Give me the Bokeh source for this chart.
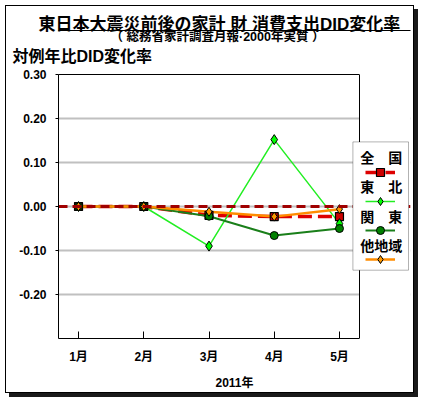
from bokeh.plotting import figure
from bokeh.models import (Range1d, FixedTicker, NumeralTickFormatter, Span, Title, Label,
                          Legend, LegendItem, LinearAxis, BoxAnnotation)
from bokeh.core.properties import value
from bokeh.embed import file_html
from bokeh.resources import INLINE

# ---- data ----
months = ["1月", "2月", "3月", "4月", "5月"]
month_pos = [1, 2, 3, 4, 5]
zenkoku = [0.0, 0.0, -0.020, -0.023, -0.023]
tohoku = [0.0, 0.0, -0.090, 0.152, -0.039]
kanto = [0.0, 0.0, -0.022, -0.066, -0.050]
others = [0.0, 0.0, -0.012, -0.023, -0.006]
series_names = ["全　国", "東　北", "関　東", "他地域"]
y_ticks = [-0.20, -0.10, 0.00, 0.10, 0.20, 0.30]
title_text = "東日本大震災前後の家計 財 消費支出DID変化率"
subtitle_text = "（ 総務省家計調査月報·2000年実質 ）"
ylabel_text = "対例年比DID変化率"
xlabel_text = "2011年"

JP = "Noto Sans CJK JP"
NUM = "'Liberation Sans', 'Noto Sans CJK JP'"

# plot-area geometry (page pixels) -> data ranges
PL, PR, PT, PB = 58.3, 359.3, 74.3, 338.3      # plot area box
FRAME_R = 410.3                                 # frame extends under the legend
X0, X1 = 0.693, 5.307                           # x at plot-area left / right
Y0, Y1 = -0.30, 0.30
FW = int(round(FRAME_R - PL))
FH = int(round(PB - PT))
XF = X0 + (FRAME_R - PL) / (PR - PL) * (X1 - X0)


def dx(px):
    return X0 + (px - PL) / (PR - PL) * (X1 - X0)


def dy(py):
    return Y1 - (py - PT) / (PB - PT) * (Y1 - Y0)


p = figure(frame_width=FW, frame_height=FH,
           min_border_left=52, min_border_top=68, min_border_right=3, min_border_bottom=54,
           x_range=Range1d(X0, XF), y_range=Range1d(Y0, Y1),
           output_backend="svg", toolbar_location=None,
           background_fill_color="white", border_fill_color="white")
p.styles = {"border": "1px solid #000", "box-shadow": "4px 4px 0 0 #1a1a1a",
            "margin-left": "5px", "margin-top": "5px"}

p.outline_line_color = None
p.xgrid.grid_line_color = None
p.ygrid.grid_line_color = "#c0c0c0"
p.ygrid.grid_line_width = 2

p.yaxis.ticker = FixedTicker(ticks=y_ticks)
p.yaxis.formatter = NumeralTickFormatter(format="0.00")
p.yaxis.major_tick_out = 3
p.yaxis.major_tick_in = 0
p.yaxis.minor_tick_line_color = None
p.yaxis.major_label_standoff = 9
p.yaxis.major_label_text_font = NUM
p.yaxis.major_label_text_font_size = "12px"
p.yaxis.major_label_text_font_style = "bold"
p.yaxis.major_label_text_color = "black"

p.xaxis.bounds = (X0, X1)
p.xaxis.ticker = FixedTicker(ticks=month_pos)
p.xaxis.major_label_overrides = {m: lab for m, lab in zip(month_pos, months)}
p.xaxis.major_tick_out = 0
p.xaxis.major_tick_in = 7
p.xaxis.minor_tick_line_color = None
p.xaxis.major_label_standoff = 11
p.xaxis.major_label_text_font = NUM
p.xaxis.major_label_text_font_size = "12px"
p.xaxis.major_label_text_font_style = "bold"
p.xaxis.major_label_text_color = "black"
p.xaxis.axis_label = xlabel_text
p.xaxis.axis_label_standoff = 9
p.xaxis.axis_label_text_font = NUM
p.xaxis.axis_label_text_font_size = "12px"
p.xaxis.axis_label_text_font_style = "bold"
p.xaxis.axis_label_text_color = "black"

# hide grid beyond the plot area, draw right border of plot area
p.add_layout(BoxAnnotation(left=X1, fill_color="white", fill_alpha=1, line_alpha=0,
                           level="underlay"))
p.add_layout(Span(location=X1, dimension="height", line_color="black", line_width=1,
                  level="underlay"))

zero = Span(location=0, dimension="width", line_color="#a00000", line_width=3,
            line_dash="9 5", level="glyph")
p.add_layout(zero)

r_z_l = p.line(month_pos, zenkoku, line_color="#dd0000", line_width=3.5, line_dash="14 6")
r_t_l = p.line(month_pos, tohoku, line_color="#22ee22", line_width=1.5)
r_k_l = p.line(month_pos, kanto, line_color="#1a7f1a", line_width=2)
r_o_l = p.line(month_pos, others, line_color="#ff8c00", line_width=2.5)
r_z_m = p.scatter(month_pos, zenkoku, marker="square", size=8, fill_color="#cc0000",
                  line_color="black", line_width=1.2)
r_t_m = p.scatter(month_pos, tohoku, marker="diamond", size=10, fill_color="#00ff00",
                  line_color="black", line_width=1)
r_k_m = p.scatter(month_pos, kanto, marker="circle", size=8, fill_color="#008000",
                  line_color="black", line_width=1)
r_o_m = p.scatter(month_pos, others, marker="diamond", size=9, fill_color="#ff9900",
                  line_color="black", line_width=1)

# legend box, samples and texts
p.add_layout(BoxAnnotation(left=dx(352.7), right=dx(408.3), top=dy(141.7), bottom=dy(270),
                           fill_color="white", fill_alpha=1, line_color="black",
                           line_width=1, level="annotation"))
legend = Legend(items=[
    LegendItem(label=value(" "), renderers=[r_z_l, r_z_m]),
    LegendItem(label=value(" "), renderers=[r_t_l, r_t_m]),
    LegendItem(label=value(" "), renderers=[r_k_l, r_k_m]),
    LegendItem(label=value(" "), renderers=[r_o_l, r_o_m]),
], location=(365 - PL, PB - 269), orientation="vertical",
    padding=0, margin=0, spacing=9, glyph_height=20, glyph_width=30,
    label_width=0, label_height=20, label_standoff=0,
    label_text_font_size="1px", border_line_alpha=0, background_fill_alpha=0)
p.add_layout(legend)

leg_text_y = [156.7, 186.0, 215.5, 245.0]
for name, py in zip(series_names, leg_text_y):
    p.add_layout(Label(x=dx(381), y=dy(py), text=name, text_align="center",
                       text_baseline="middle", text_font=JP,
                       text_font_size="14px", text_font_style="bold", text_color="black"))

# above: top border of plot area, texts and title underline (first = nearest frame)
top_border = LinearAxis(ticker=FixedTicker(ticks=[]), bounds=(X0, X1),
                        major_tick_in=0, major_tick_out=0, minor_tick_in=0, minor_tick_out=0,
                        axis_line_color="black", axis_line_width=1,
                        axis_label=" ", axis_label_text_font_size="2px",
                        axis_label_standoff=0)
p.add_layout(top_border, "above")
p.add_layout(Title(text=ylabel_text, align="left", offset=-46, text_font=NUM,
                   text_font_size="16px", text_font_style="bold", text_color="black",
                   standoff=9), "above")
p.add_layout(Title(text=subtitle_text, align="left", offset=52, text_font=NUM,
                   text_font_size="12.5px", text_font_style="bold", text_color="black",
                   standoff=-5), "above")
underline = LinearAxis(ticker=FixedTicker(ticks=[]),
                       major_tick_in=0, major_tick_out=0, minor_tick_in=0, minor_tick_out=0,
                       axis_line_color="black", axis_line_width=1,
                       axis_label=" ", axis_label_text_font_size="2px",
                       axis_label_standoff=-2)
p.add_layout(underline, "above")
p.add_layout(Title(text=title_text, align="left", offset=-20, text_font=NUM,
                   text_font_size="17px", text_font_style="bold", text_color="black",
                   standoff=-13), "above")

open("out.html", "w").write(file_html(p, INLINE))
